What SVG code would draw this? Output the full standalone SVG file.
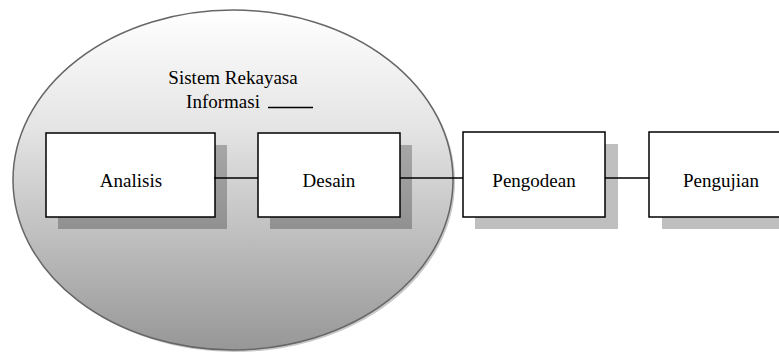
<svg xmlns="http://www.w3.org/2000/svg" width="779" height="352" viewBox="0 0 779 352">
<style>
.box{fill:#fff;stroke:#000;stroke-width:1.5}
.shadow{fill:#000;fill-opacity:0.25}
.lbl{font-size:19px;fill:#000;text-anchor:middle}
.conn{stroke:#000;stroke-width:1.3;fill:none}
</style>
<defs>
<linearGradient id="g" x1="0" y1="0" x2="0" y2="1">
<stop offset="0" stop-color="#ffffff"/>
<stop offset="0.35" stop-color="#e4e4e4"/>
<stop offset="1" stop-color="#979797"/>
</linearGradient>
</defs>
<rect width="779" height="352" fill="#fff"/>
<g font-family="Liberation Serif, Times New Roman, serif">
<g id="ellipse">
<ellipse cx="235" cy="182" rx="220" ry="170" fill="#c8c8c8"/>
<ellipse cx="233" cy="180" rx="220" ry="170" fill="url(#g)" stroke="#666" stroke-width="1.5"/>
<text class="lbl" x="233" y="84">Sistem Rekayasa</text>
<text class="lbl" x="223" y="108">Informasi</text>
<line x1="268" y1="107.5" x2="313" y2="107.5" stroke="#000" stroke-width="1.3"/>
</g>
<g id="analisis">
<rect class="shadow" x="58" y="145" width="169" height="84"/>
<rect class="box" x="46" y="133" width="169" height="84"/>
<text class="lbl" x="131" y="187">Analisis</text>
</g>
<g id="desain">
<rect class="shadow" x="270" y="145" width="142" height="84"/>
<rect class="box" x="258" y="133" width="142" height="84"/>
<text class="lbl" x="329" y="187">Desain</text>
</g>
<g id="pengodean">
<rect class="shadow" x="475" y="144" width="143" height="85"/>
<rect class="box" x="463" y="132" width="142" height="85"/>
<text class="lbl" x="534" y="187">Pengodean</text>
</g>
<g id="pengujian">
<rect class="shadow" x="662" y="144" width="143" height="85"/>
<rect class="box" x="649" y="132" width="142" height="85"/>
<text class="lbl" x="721" y="187">Pengujian</text>
</g>
<g id="connectors">
<line class="conn" x1="214" y1="178" x2="258" y2="178"/>
<line class="conn" x1="400" y1="178" x2="463" y2="178"/>
<line class="conn" x1="605" y1="178" x2="649" y2="178"/>
</g>
</g>
</svg>
